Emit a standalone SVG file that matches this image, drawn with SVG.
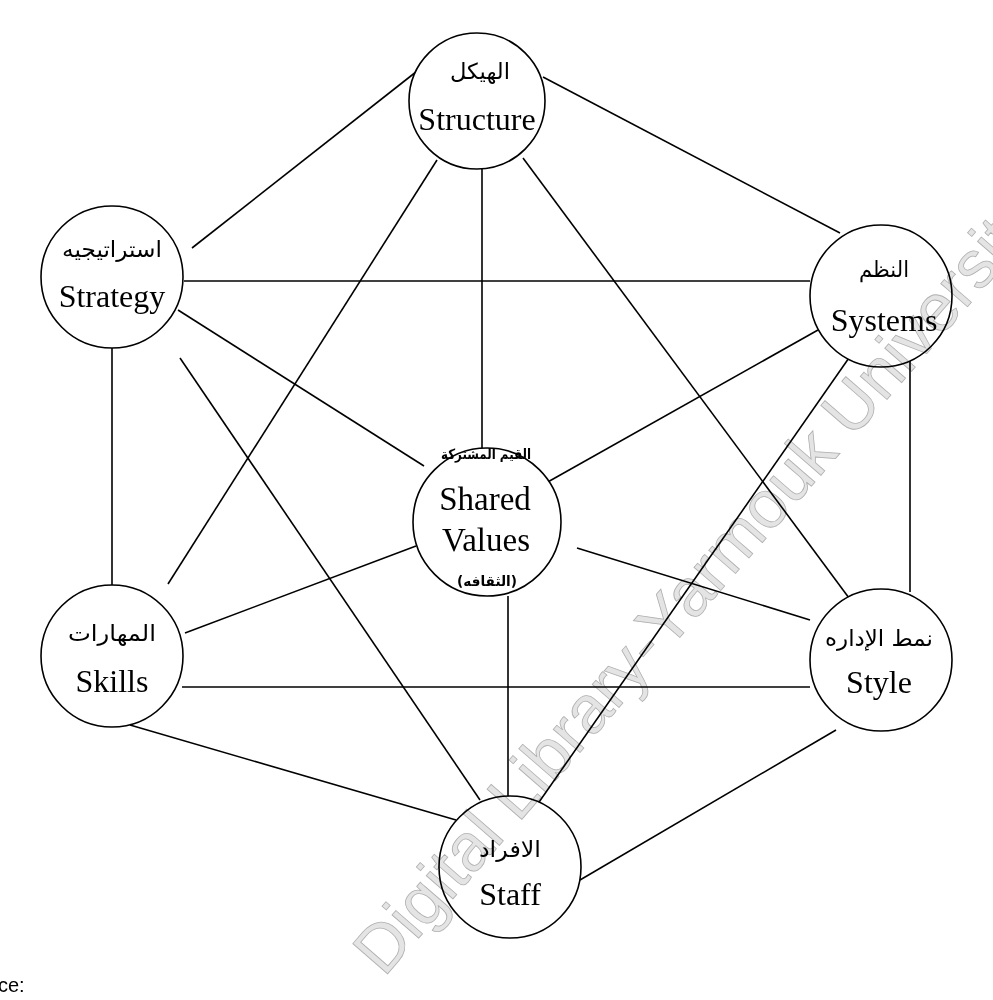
<svg xmlns="http://www.w3.org/2000/svg" width="993" height="1000" viewBox="0 0 993 1000">
  <style>
    .node circle { fill: #fff; stroke: #000; stroke-width: 1.6; }
    .en { font-family: "Liberation Serif", "Times New Roman", serif; font-size: 32px; fill: #000; text-anchor: middle; }
    .ar { font-family: "DejaVu Sans", "Noto Sans", sans-serif; font-size: 22px; fill: #000; text-anchor: middle; }
    .arsm { font-family: "DejaVu Sans", "Noto Sans", sans-serif; font-size: 14px; font-weight: bold; fill: #000; text-anchor: middle; }
    #connectors line { stroke: #000; stroke-width: 1.6; }
    .wm { font-family: "Liberation Sans", Arial, sans-serif; font-size: 67px; fill: #e4e4e4; stroke: #b0b0b0; stroke-width: 0.8; mix-blend-mode: multiply; }
    .note { font-family: "Liberation Sans", Arial, sans-serif; font-size: 20px; fill: #000; }
  </style>
  <rect width="993" height="1000" fill="#fff"/>

  <!-- links between the seven elements -->
  <g id="connectors">
    <line x1="192" y1="248" x2="421" y2="68"/>
    <line x1="543" y1="77" x2="840" y2="233"/>
    <line x1="482" y1="168" x2="482" y2="449"/>
    <line x1="437" y1="160" x2="168" y2="584"/>
    <line x1="523" y1="158" x2="849" y2="598"/>
    <line x1="184" y1="281" x2="810" y2="281"/>
    <line x1="178" y1="310" x2="424" y2="466"/>
    <line x1="112" y1="347" x2="112" y2="587"/>
    <line x1="180" y1="358" x2="480" y2="800"/>
    <line x1="818" y1="330" x2="546" y2="483"/>
    <line x1="851" y1="355" x2="537" y2="805"/>
    <line x1="910" y1="361" x2="910" y2="592"/>
    <line x1="416" y1="546" x2="185" y2="633"/>
    <line x1="577" y1="548" x2="810" y2="620"/>
    <line x1="508" y1="596" x2="508" y2="797"/>
    <line x1="182" y1="687" x2="810" y2="687"/>
    <line x1="130" y1="725" x2="456" y2="820"/>
    <line x1="836" y1="730" x2="580" y2="880"/>
  </g>

  <g id="structure" class="node">
    <circle cx="477" cy="101" r="68"/>
    <text class="ar" x="480" y="79" textLength="60" lengthAdjust="spacingAndGlyphs">الهيكل</text>
    <text class="en" x="477" y="130">Structure</text>
  </g>

  <g id="strategy" class="node">
    <circle cx="112" cy="277" r="71"/>
    <text class="ar" x="112" y="257" textLength="100" lengthAdjust="spacingAndGlyphs">استراتيجيه</text>
    <text class="en" x="112" y="307">Strategy</text>
  </g>

  <g id="systems" class="node">
    <circle cx="881" cy="296" r="71"/>
    <text class="ar" x="884" y="277" textLength="50" lengthAdjust="spacingAndGlyphs">النظم</text>
    <text class="en" x="884" y="331">Systems</text>
  </g>

  <g id="shared-values" class="node">
    <circle cx="487" cy="522" r="74"/>
    <text class="arsm" x="486" y="459" textLength="90" lengthAdjust="spacingAndGlyphs">القيم المشتركة</text>
    <text class="en" x="485" y="510" style="font-size:33px">Shared</text>
    <text class="en" x="486" y="551" style="font-size:33px">Values</text>
    <text class="arsm" x="487" y="586" textLength="60" lengthAdjust="spacingAndGlyphs">(الثقافه)</text>
  </g>

  <g id="skills" class="node">
    <circle cx="112" cy="656" r="71"/>
    <text class="ar" x="112" y="641" textLength="88" lengthAdjust="spacingAndGlyphs">المهارات</text>
    <text class="en" x="112" y="692">Skills</text>
  </g>

  <g id="style" class="node">
    <circle cx="881" cy="660" r="71"/>
    <text class="ar" x="879" y="646" textLength="108" lengthAdjust="spacingAndGlyphs">نمط الإداره</text>
    <text class="en" x="879" y="693">Style</text>
  </g>

  <g id="staff" class="node">
    <circle cx="510" cy="867" r="71"/>
    <text class="ar" x="510" y="857" textLength="62" lengthAdjust="spacingAndGlyphs">الافراد</text>
    <text class="en" x="510" y="905">Staff</text>
  </g>

  <!-- library watermark across the sheet -->
  <text class="wm" transform="translate(384,978) rotate(-49)">Digital Library-Yarmouk University</text>

  <text class="note" x="-2" y="992">ce:</text>
</svg>
